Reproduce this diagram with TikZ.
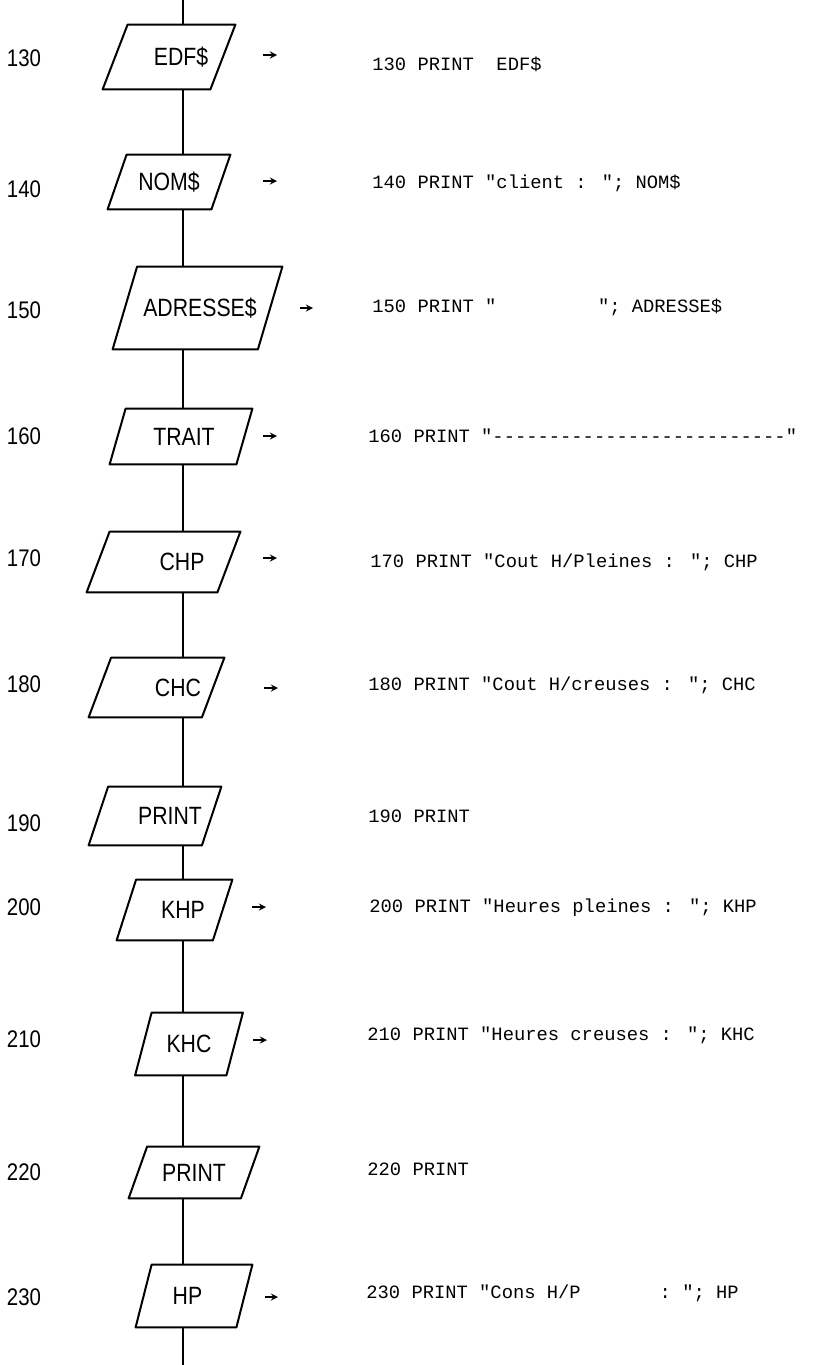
\documentclass[tikz,border=0pt]{standalone}
\usepackage{fontspec}
\usepackage{tikz}
\usetikzlibrary{arrows}
\newfontfamily\labelfont[FakeStretch=0.85]{Liberation Sans}
\newfontfamily\codefont[Ligatures=TeXOff]{Liberation Mono}
\tikzstyle{lineno} = [font=\labelfont\fontsize{12}{14}\selectfont, inner sep=0pt]
\tikzstyle{code} = [anchor=base west, font=\codefont\fontsize{9.4}{11}\selectfont, inner sep=0pt]
\tikzstyle{arrow} = [line width=0.6pt,->,>=stealth]
\tikzstyle{link} = [line width=0.8pt]
% parallelogram: side width, height, lean, shift of the frame
\tikzset{iobox/.style n args={4}{rectangle, minimum width=#1, minimum height=#2, inner sep=0pt,
    font=\labelfont\fontsize{12.5}{14}\selectfont,
    append after command={\pgfextra{\draw[line width=1pt, line join=round]
        ([xshift=#4+#3/2]\tikzlastnode.north west) -- ([xshift=#4+#3/2]\tikzlastnode.north east) --
        ([xshift=#4-#3/2]\tikzlastnode.south east) -- ([xshift=#4-#3/2]\tikzlastnode.south west) -- cycle;}}}}

\begin{document}
\begin{tikzpicture}[x=0.5pt, y=-0.5pt]
            \useasboundingbox (0,0) rectangle (832,1365);

            % Output boxes
            \node (b130) [iobox={53.5pt}{32pt}{12.5pt}{-6pt}] at (181,57) {EDF\$};
            \node (b140) [iobox={51.5pt}{27pt}{9.5pt}{0pt}] at (169,182) {NOM\$};
            \node (b150) [iobox={72.25pt}{41pt}{12.25pt}{-1.25pt}] at (200,308) {ADRESSE\$};
            \node (b160) [iobox={63pt}{27.5pt}{8pt}{-1.5pt}] at (184,436.5) {TRAIT};
            \node (b170) [iobox={65pt}{30pt}{11.5pt}{-9.25pt}] at (182,562) {CHP};
            \node (b180) [iobox={56.25pt}{29.5pt}{11.25pt}{-10.75pt}] at (178,687.5) {CHC};
            \node (b190) [iobox={56.25pt}{29pt}{9.75pt}{-7.5pt}] at (170,816) {PRINT};
            \node (b200) [iobox={47.75pt}{30pt}{9.75pt}{-4.25pt}] at (183,910) {KHP};
            \node (b210) [iobox={45.25pt}{31pt}{8.25pt}{0pt}] at (189,1044) {KHC};
            \node (b220) [iobox={55.75pt}{25.5pt}{9.25pt}{0pt}] at (194,1172.5) {PRINT};
            \node (b230) [iobox={50pt}{31pt}{8pt}{3.25pt}] at (187.5,1296) {HP};

            % Line numbers
            \node (n130) [lineno] at (24,58) {130};
            \node (n140) [lineno] at (24,189) {140};
            \node (n150) [lineno] at (24,310) {150};
            \node (n160) [lineno] at (24,436) {160};
            \node (n170) [lineno] at (24,558) {170};
            \node (n180) [lineno] at (24,684) {180};
            \node (n190) [lineno] at (24,823) {190};
            \node (n200) [lineno] at (24,907) {200};
            \node (n210) [lineno] at (24,1039) {210};
            \node (n220) [lineno] at (24,1172) {220};
            \node (n230) [lineno] at (24,1297) {230};

            % BASIC listing
            \node (c130) [code] at (372,70) {130 PRINT~~EDF\$};
            \node (c140) [code] at (372,188) {140 PRINT "client : "; NOM\$};
            \node (c150) [code] at (372,312) {150 PRINT "~~~~~~~~~"; ADRESSE\$};
            \node (c160) [code] at (368,442) {160 PRINT "--------------------------"};
            \node (c170) [code] at (370,567) {170 PRINT "Cout H/Pleines : "; CHP};
            \node (c180) [code] at (368,690) {180 PRINT "Cout H/creuses : "; CHC};
            \node (c190) [code] at (368,822) {190 PRINT};
            \node (c200) [code] at (369,912) {200 PRINT "Heures pleines : "; KHP};
            \node (c210) [code] at (367,1040) {210 PRINT "Heures creuses : "; KHC};
            \node (c220) [code] at (367,1175) {220 PRINT};
            \node (c230) [code] at (366,1298) {230 PRINT "Cons H/P~~~~~~~: "; HP};

            % Flow line
            \coordinate (top) at (183,0);
            \coordinate (bottom) at (183,1365);
            \draw [link] (top) -- (top |- b130.north);
            \draw [link] (top |- b130.south) -- (top |- b140.north);
            \draw [link] (top |- b140.south) -- (top |- b150.north);
            \draw [link] (top |- b150.south) -- (top |- b160.north);
            \draw [link] (top |- b160.south) -- (top |- b170.north);
            \draw [link] (top |- b170.south) -- (top |- b180.north);
            \draw [link] (top |- b180.south) -- (top |- b190.north);
            \draw [link] (top |- b190.south) -- (top |- b200.north);
            \draw [link] (top |- b200.south) -- (top |- b210.north);
            \draw [link] (top |- b210.south) -- (top |- b220.north);
            \draw [link] (top |- b220.south) -- (top |- b230.north);
            \draw [link] (top |- b230.south) -- (bottom);

            % Small arrows towards the listing
            \coordinate (out130) at (263,55);   \coordinate (to130) at (277,55);
            \coordinate (out140) at (263,181);  \coordinate (to140) at (277,181);
            \coordinate (out150) at (300,308);  \coordinate (to150) at (313,308);
            \coordinate (out160) at (263,436);  \coordinate (to160) at (277,436);
            \coordinate (out170) at (263,558);  \coordinate (to170) at (277,558);
            \coordinate (out180) at (264,688);  \coordinate (to180) at (278,688);
            \coordinate (out200) at (252,907);  \coordinate (to200) at (266,907);
            \coordinate (out210) at (253,1040); \coordinate (to210) at (267,1040);
            \coordinate (out230) at (265,1297); \coordinate (to230) at (278,1297);
            \draw [arrow] (out130) -- (to130);
            \draw [arrow] (out140) -- (to140);
            \draw [arrow] (out150) -- (to150);
            \draw [arrow] (out160) -- (to160);
            \draw [arrow] (out170) -- (to170);
            \draw [arrow] (out180) -- (to180);
            \draw [arrow] (out200) -- (to200);
            \draw [arrow] (out210) -- (to210);
            \draw [arrow] (out230) -- (to230);
        \end{tikzpicture}
\end{document}
